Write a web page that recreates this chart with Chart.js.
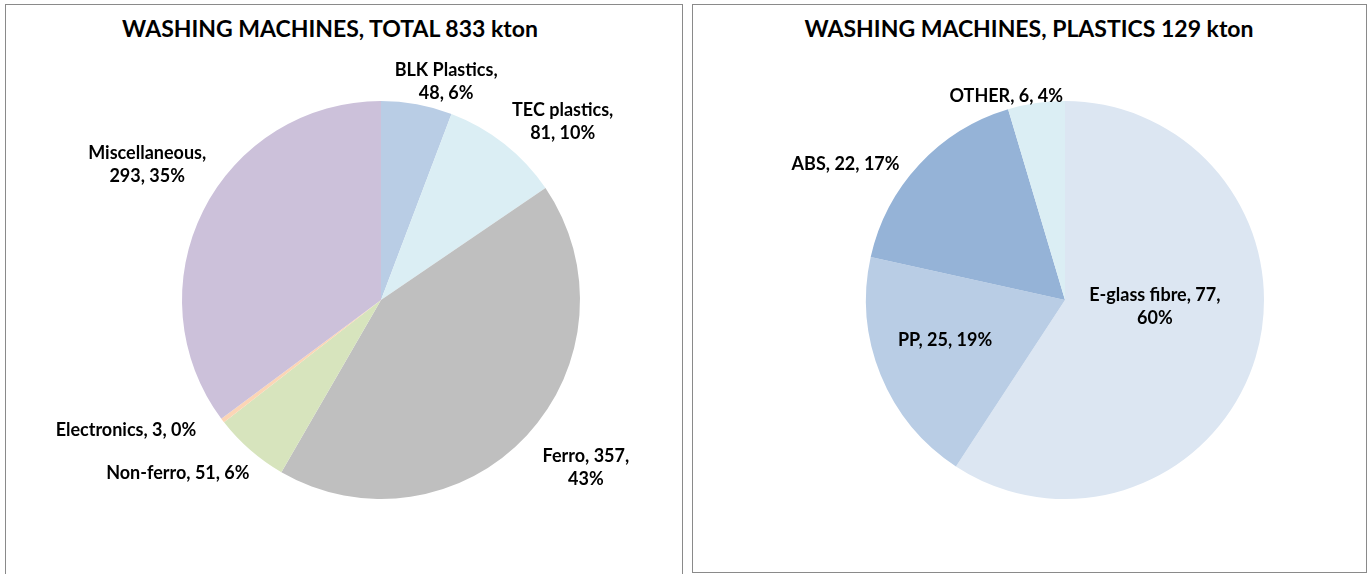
<!DOCTYPE html>
<html>
<head>
<meta charset="utf-8">
<script src="https://cdn.jsdelivr.net/npm/chart.js@4.4.0/dist/chart.umd.min.js"></script>
<style>
  body { margin: 0; background: #fff; width: 1371px; height: 574px; position: relative; overflow: hidden; font-family: Lato, sans-serif; }
  .panel { position: absolute; border: 1px solid #8a8a8a; background: #fff; }
  .title { position: absolute; left: 0; right: 0; text-align: center; font: bold 23px Lato, sans-serif; color: #000; }
  canvas { position: absolute; }
</style>
</head>
<body>
<div class="panel" style="left:5px; top:4px; width:676px; height:580px;"></div>
<div class="panel" style="left:692px; top:4px; width:673px; height:567px;"></div>
<div class="title" style="left:6px; width:648px; top:14px;">WASHING MACHINES, TOTAL 833 kton</div>
<div class="title" style="left:693px; width:672px; top:14px;">WASHING MACHINES, PLASTICS 129 kton</div>
<div style="position:absolute; left:6px; top:5px; width:675px; height:569px;"><canvas id="totalChart"></canvas></div>
<div style="position:absolute; left:693px; top:5px; width:672px; height:567px;"><canvas id="plasticsChart"></canvas></div>
<script>
const totalCategories = ['BLK Plastics', 'TEC plastics', 'Ferro', 'Non-ferro', 'Electronics', 'Miscellaneous'];
const totalValues = [48, 81, 357, 51, 3, 293];
const totalPercents = [6, 10, 43, 6, 0, 35];

const plasticCategories = ['E-glass fibre', 'PP', 'ABS', 'OTHER'];
const plasticValues = [77, 25, 22, 6];
const plasticPercents = [60, 19, 17, 4];

// label placement: radial factor along slice middle, pixel nudge, and where to break the line
const totalLabelPos = [
  { k: 1.12, dx: 25, dy: 1, wrap: 1 },
  { k: 1.28, dx: 24, dy: 22, wrap: 1 },
  { k: 1.33, dx: 11, dy: -12, wrap: 2 },
  { k: 1.34, dx: -28, dy: -28, wrap: 0 },
  { k: 1.44, dx: -27, dy: -43, wrap: 0 },
  { k: 1.36, dx: 8, dy: -14, wrap: 1 },
];
const plasticLabelPos = [
  { k: 0.45, dx: 4, dy: -19, wrap: 2 },
  { k: 0.64, dx: -2, dy: -8, wrap: 0 },
  { k: 1.30, dx: -30, dy: 40, wrap: 0 },
  { k: 1.07, dx: -28, dy: 7, wrap: 0 },
];

const sliceLabels = {
  id: 'sliceLabels',
  afterDatasetsDraw(chart, args, opts) {
    const ctx = chart.ctx;
    const meta = chart.getDatasetMeta(0);
    ctx.save();
    ctx.font = 'bold 18px Lato, sans-serif';
    ctx.fillStyle = '#000';
    ctx.textAlign = 'center';
    ctx.textBaseline = 'middle';
    meta.data.forEach((arc, i) => {
      const p = opts.pos[i];
      const mid = (arc.startAngle + arc.endAngle) / 2;
      const x = arc.x + Math.cos(mid) * arc.outerRadius * p.k + p.dx;
      const y = arc.y + Math.sin(mid) * arc.outerRadius * p.k + p.dy;
      const parts = [opts.names[i], String(opts.values[i]), opts.percents[i] + '%'];
      let lines;
      if (p.wrap === 0) {
        lines = [parts.join(', ')];
      } else {
        lines = [parts.slice(0, p.wrap).join(', ') + ',', parts.slice(p.wrap).join(', ')];
      }
      const lh = 23;
      lines.forEach((t, j) => {
        ctx.fillText(t, x, y + (j - (lines.length - 1) / 2) * lh);
      });
    });
    ctx.restore();
  }
};

new Chart(document.getElementById('totalChart'), {
  type: 'pie',
  data: {
    labels: totalCategories,
    datasets: [{
      data: totalValues,
      backgroundColor: ['#b9cde5', '#dbeef4', '#bfbfbf', '#d7e4bd', '#fcd5b5', '#ccc1da'],
      borderWidth: 0,
    }]
  },
  options: {
    responsive: true,
    maintainAspectRatio: false,
    animation: false,
    layout: { padding: { left: 176, right: 101, top: 96, bottom: 75 } },
    plugins: {
      legend: { display: false },
      tooltip: { enabled: false },
      sliceLabels: { names: totalCategories, values: totalValues, percents: totalPercents, pos: totalLabelPos },
    }
  },
  plugins: [sliceLabels]
});

new Chart(document.getElementById('plasticsChart'), {
  type: 'pie',
  data: {
    labels: plasticCategories,
    datasets: [{
      data: plasticValues,
      backgroundColor: ['#dce6f2', '#b9cde5', '#95b3d7', '#dbeef4'],
      borderWidth: 0,
    }]
  },
  options: {
    responsive: true,
    maintainAspectRatio: false,
    animation: false,
    layout: { padding: { left: 173, right: 101, top: 96, bottom: 73 } },
    plugins: {
      legend: { display: false },
      tooltip: { enabled: false },
      sliceLabels: { names: plasticCategories, values: plasticValues, percents: plasticPercents, pos: plasticLabelPos },
    }
  },
  plugins: [sliceLabels]
});
</script>
</body>
</html>
